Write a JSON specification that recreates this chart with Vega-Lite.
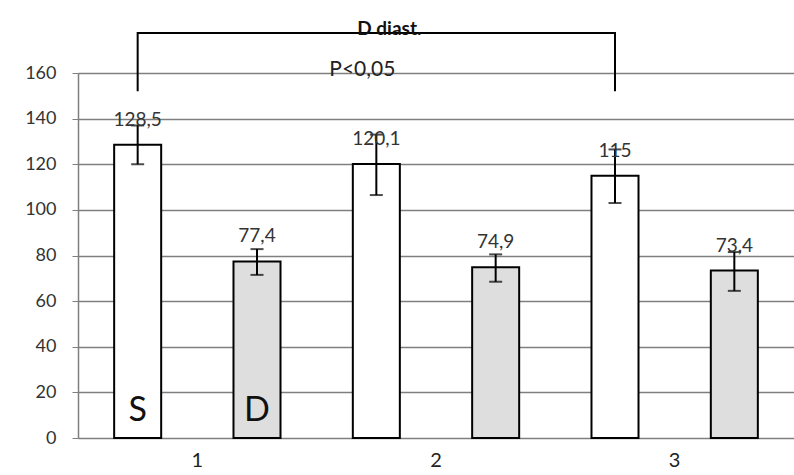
{
  "$schema": "https://vega.github.io/schema/vega-lite/v6.json",
  "width": 716,
  "height": 365,
  "autosize": "none",
  "padding": {"left": 78, "top": 73, "right": 0, "bottom": 37},
  "background": "white",
  "config": {"view": {"stroke": null}, "font": "Lato"},
  "datasets": {
    "bars": [
      {"group": "1", "series": "S", "value": 128.5, "lo": 120, "hi": 137, "label": "128,5"},
      {"group": "1", "series": "D", "value": 77.4, "lo": 71.5, "hi": 82.8, "label": "77,4"},
      {"group": "2", "series": "S", "value": 120.1, "lo": 106.5, "hi": 133, "label": "120,1"},
      {"group": "2", "series": "D", "value": 74.9, "lo": 68.5, "hi": 80.5, "label": "74,9"},
      {"group": "3", "series": "S", "value": 115, "lo": 103, "hi": 126.5, "label": "115"},
      {"group": "3", "series": "D", "value": 73.4, "lo": 64.5, "hi": 81.5, "label": "73,4"}
    ],
    "bracket": [
      {"group": "1", "series": "S", "y": 152, "order": 1},
      {"group": "1", "series": "S", "y": 177.5, "order": 2},
      {"group": "3", "series": "S", "y": 177.5, "order": 3},
      {"group": "3", "series": "S", "y": 152, "order": 4}
    ],
    "title": [{"group": "2", "series": "S", "y": 179.5, "text": "D diast."}],
    "pval": [{"group": "2", "series": "S", "y": 161.5, "text": "P<0,05"}],
    "inbar": [
      {"group": "1", "series": "S", "y": 12, "text": "S"},
      {"group": "1", "series": "D", "y": 12, "text": "D"}
    ]
  },
  "encoding": {
    "x": {
      "field": "group", "type": "nominal",
      "scale": {"paddingInner": 0, "paddingOuter": 0},
      "axis": {"title": null, "labelAngle": 0, "ticks": false, "domain": false, "labelFontSize": 20, "labelColor": "#222", "labelPadding": 12}
    },
    "xOffset": {
      "field": "series", "type": "nominal", "sort": ["S", "D"],
      "scale": {"domain": ["S", "D"], "paddingInner": 0.606, "paddingOuter": 0.303}
    }
  },
  "layer": [
    {
      "data": {"name": "bars"},
      "mark": {"type": "bar", "stroke": "black", "strokeWidth": 2},
      "encoding": {
        "y": {
          "field": "value", "type": "quantitative",
          "scale": {"domain": [0, 160], "nice": false},
          "axis": {"title": null, "values": [0, 20, 40, 60, 80, 100, 120, 140, 160], "grid": true, "gridColor": "#7f7f7f", "gridWidth": 1.5, "domainColor": "#7f7f7f", "domainWidth": 1.5, "tickColor": "#7f7f7f", "tickSize": 6, "labelFontSize": 18, "labelColor": "#333", "labelPadding": 16}
        },
        "color": {"field": "series", "type": "nominal", "scale": {"domain": ["S", "D"], "range": ["white", "#dedede"]}, "legend": null}
      }
    },
    {
      "data": {"name": "bars"},
      "mark": {"type": "rule", "color": "black", "strokeWidth": 2},
      "encoding": {
        "y": {"field": "lo", "type": "quantitative"},
        "y2": {"field": "hi"}
      }
    },
    {
      "data": {"name": "bars"},
      "mark": {"type": "tick", "color": "black", "thickness": 2, "size": 13, "orient": "horizontal"},
      "encoding": {"y": {"field": "hi", "type": "quantitative"}}
    },
    {
      "data": {"name": "bars"},
      "mark": {"type": "tick", "color": "black", "thickness": 2, "size": 13, "orient": "horizontal"},
      "encoding": {"y": {"field": "lo", "type": "quantitative"}}
    },
    {
      "data": {"name": "bars"},
      "mark": {"type": "text", "dy": -25, "fontSize": 19, "color": "#333", "baseline": "middle"},
      "encoding": {
        "y": {"field": "value", "type": "quantitative"},
        "text": {"field": "label"}
      }
    },
    {
      "data": {"name": "bracket"},
      "mark": {"type": "line", "color": "black", "strokeWidth": 2, "clip": false},
      "encoding": {
        "y": {"field": "y", "type": "quantitative"},
        "order": {"field": "order"}
      }
    },
    {
      "data": {"name": "title"},
      "mark": {"type": "text", "fontSize": 19, "fontWeight": "bold", "color": "#111", "dx": 13, "baseline": "middle", "clip": false},
      "encoding": {
        "y": {"field": "y", "type": "quantitative"},
        "text": {"field": "text"}
      }
    },
    {
      "data": {"name": "pval"},
      "mark": {"type": "text", "fontSize": 21, "color": "#222", "dx": -14, "baseline": "middle", "clip": false},
      "encoding": {
        "y": {"field": "y", "type": "quantitative"},
        "text": {"field": "text"}
      }
    },
    {
      "data": {"name": "inbar"},
      "mark": {"type": "text", "fontSize": 34, "color": "#111", "baseline": "middle"},
      "encoding": {
        "y": {"field": "y", "type": "quantitative"},
        "text": {"field": "text"}
      }
    }
  ]
}
